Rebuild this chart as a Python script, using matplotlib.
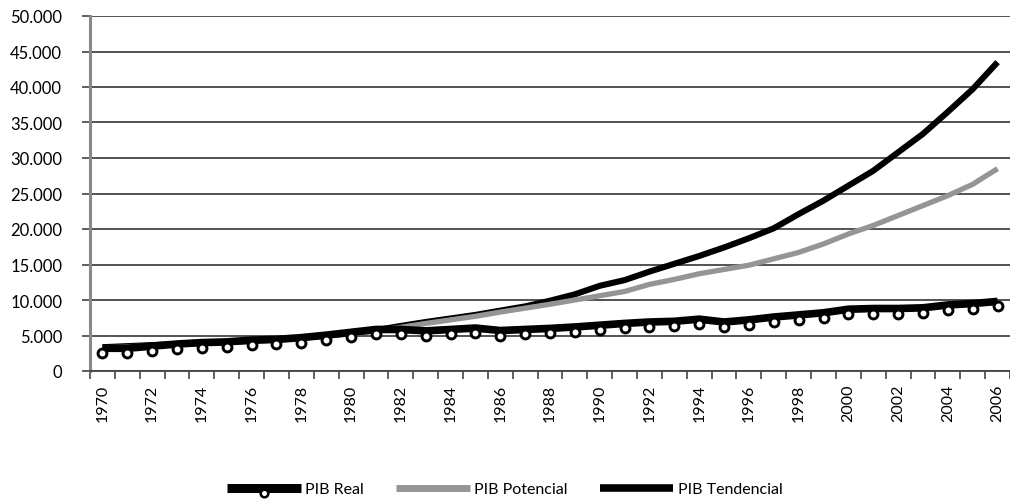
import matplotlib
matplotlib.use("Agg")
import matplotlib.pyplot as plt
import matplotlib.transforms as mtransforms
from matplotlib.legend_handler import HandlerBase
from matplotlib.lines import Line2D
from matplotlib.ticker import FuncFormatter
from matplotlib import font_manager
import numpy as np

years = list(range(1970, 2007))

# PIB Real (thick black line)
pib_real = [3200, 3200, 3500, 3800, 4000, 4100, 4350, 4450, 4700, 5050,
            5450, 5850, 5850, 5650, 5850, 6050, 5700, 5850, 6000, 6200,
            6450, 6700, 6900, 7000, 7300, 6900, 7200, 7600, 7900, 8200,
            8700, 8800, 8800, 8900, 9300, 9500, 9800]

# PIB Potencial (grey)
pib_potencial = [3250, 3400, 3550, 3700, 3850, 4000, 4150, 4350, 4600, 4900,
                 5250, 5650, 6150, 6700, 7200, 7700, 8300, 8850, 9400, 10000,
                 10600, 11200, 12200, 12900, 13700, 14300, 14900, 15800, 16700, 17900,
                 19300, 20500, 21900, 23300, 24700, 26300, 28500]

# PIB Tendencial (black)
pib_tendencial = [3350, 3500, 3650, 3800, 3950, 4100, 4250, 4450, 4700, 5000,
                  5350, 5750, 6350, 6900, 7400, 7900, 8500, 9100, 9900, 10800,
                  12000, 12800, 14000, 15100, 16200, 17400, 18700, 20100, 22100, 24000,
                  26100, 28200, 30800, 33400, 36500, 39700, 43500]

names = {f.name for f in font_manager.fontManager.ttflist}
font = "Lato" if "Lato" in names else "DejaVu Sans"
plt.rcParams["font.family"] = [font, "DejaVu Sans"]

MARK = dict(marker="o", markerfacecolor="white", markeredgecolor="black")


class LowMarkerHandler(HandlerBase):
    # legend marker sits at the bottom edge of the line, like in the original
    def create_artists(self, legend, orig_handle, xdescent, ydescent, width, height, fontsize, trans):
        y = height / 2 - ydescent
        line = Line2D([-xdescent, width - xdescent], [y, y], color="black",
                      linewidth=6.5, solid_capstyle="butt")
        mark = Line2D([width / 2 - xdescent], [y - 3.6], linestyle="none",
                      markersize=5.5, markeredgewidth=1.8, **MARK)
        line.set_transform(trans)
        mark.set_transform(trans)
        return [line, mark]


x = np.arange(len(years))

fig = plt.figure(figsize=(10.10, 5.02), dpi=100)
ax = fig.add_axes([90 / 1010, 1 - 372 / 502, 1 - 90 / 1010, 355 / 502])

ax.set_ylim(0, 50000)
ax.set_xlim(-0.5, len(years) - 0.5)
ax.set_yticks(np.arange(0, 50001, 5000))
ax.yaxis.set_major_formatter(FuncFormatter(lambda v, p: f"{int(v):,}".replace(",", ".")))
ax.grid(axis="y", color="#444444", linewidth=1.3)
ax.set_axisbelow(True)

ax.plot(x, pib_tendencial, color="black", linewidth=4.4, solid_capstyle="butt", zorder=3)
ax.plot(x, pib_potencial, color="#959599", linewidth=3.8, solid_capstyle="butt", zorder=3)
ax.plot(x, pib_real, color="black", linewidth=5.5, solid_capstyle="butt", zorder=4)

# markers printed slightly below the line, as in the original
shift = mtransforms.ScaledTranslation(0, -5 / 100, fig.dpi_scale_trans)
ax.plot(x, pib_real, linestyle="none", markersize=6.4, markeredgewidth=2.1,
        transform=ax.transData + shift, zorder=5, **MARK)

ax.set_xticks(x[::2])
ax.set_xticklabels([str(y) for y in years[::2]], rotation=90)
ax.set_xticks(np.arange(-0.5, len(years), 1), minor=True)
ax.tick_params(axis="x", which="major", length=0, pad=9, labelsize=11.5)
ax.tick_params(axis="x", which="minor", length=6, width=1.2, color="#444444")
ax.tick_params(axis="y", length=6, width=1.2, color="#444444", labelsize=12, pad=14)

for s in ["top", "right"]:
    ax.spines[s].set_visible(False)
ax.spines["left"].set_color("#888888")
ax.spines["left"].set_linewidth(2.2)
ax.spines["bottom"].set_color("#444444")
ax.spines["bottom"].set_linewidth(1.3)

h_real, = ax.plot([], [], color="black")
h_pot, = ax.plot([], [], color="#959599", linewidth=5, solid_capstyle="butt")
h_ten, = ax.plot([], [], color="black", linewidth=5.5, solid_capstyle="butt")
fig.legend([h_real, h_pot, h_ten], ["PIB Real", "PIB Potencial", "PIB Tendencial"],
           handler_map={h_real: LowMarkerHandler()},
           loc="center", bbox_to_anchor=(0.5, 1 - 490 / 502), ncol=3, frameon=False,
           handlelength=4.6, handletextpad=0.3, columnspacing=2.0, fontsize=11.5)

fig.savefig("out.png", dpi=100)
